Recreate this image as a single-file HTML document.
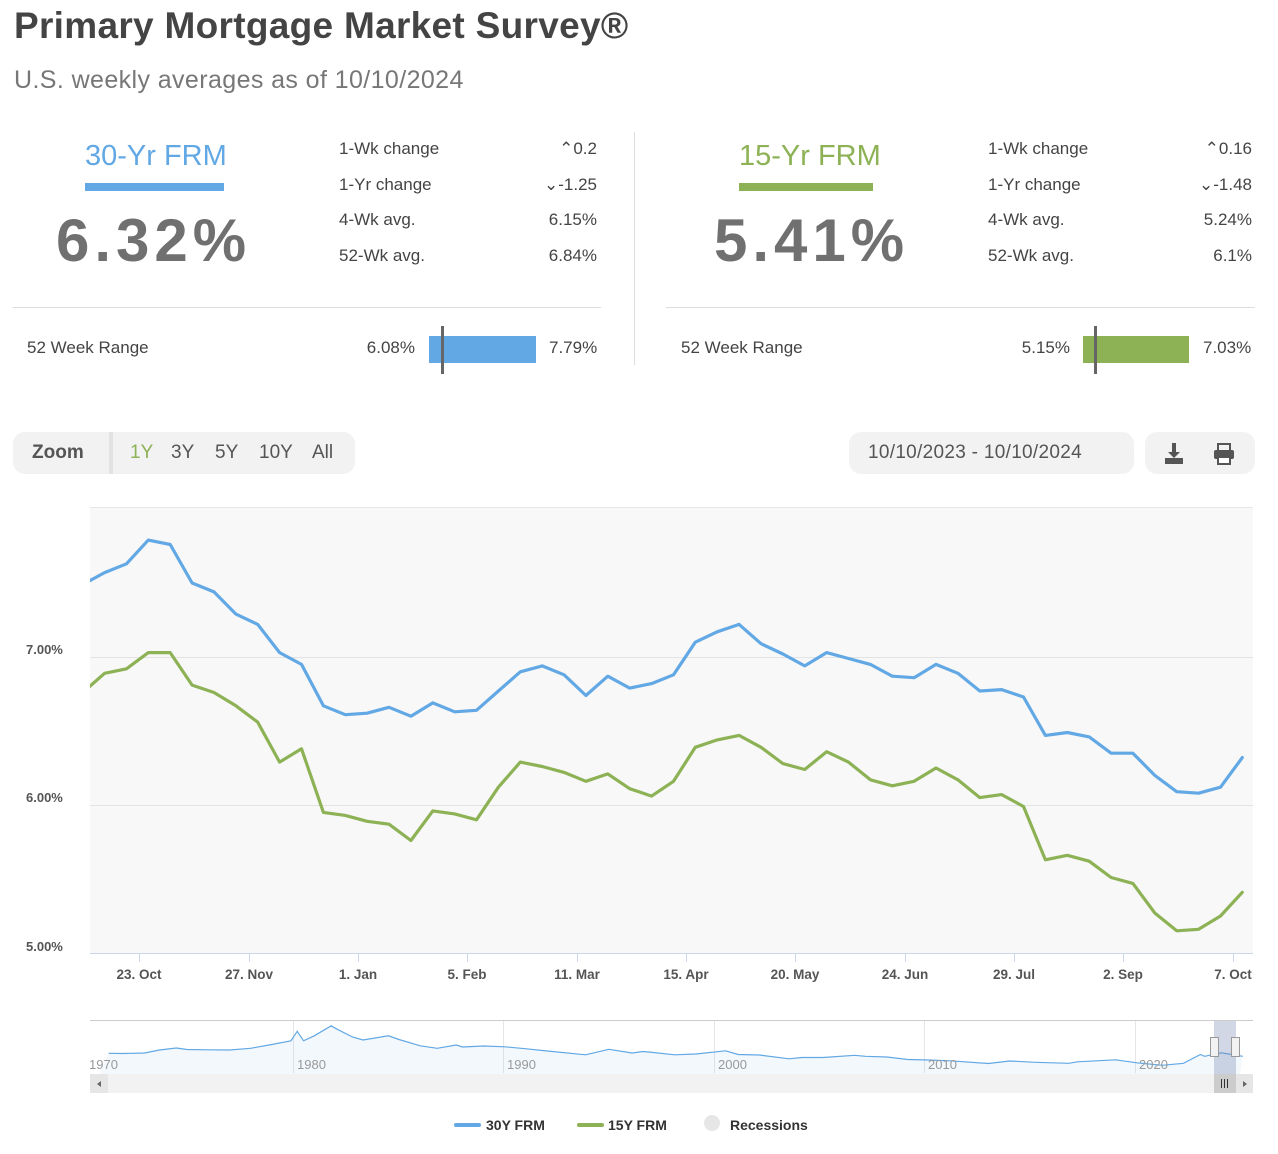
<!DOCTYPE html>
<html><head><meta charset="utf-8"><style>
*{margin:0;padding:0;box-sizing:border-box}
body{width:1278px;height:1154px;background:#fff;font-family:"Liberation Sans",sans-serif;color:#444;position:relative;overflow:hidden}
.a{position:absolute;white-space:nowrap}
.lbl{font-size:17px;color:#444}
.val{font-size:17px;color:#444;text-align:right}
</style></head><body>
<div class="a" style="left:14px;top:5px;font-size:37px;font-weight:bold;color:#444;letter-spacing:0.3px">Primary Mortgage Market Survey®</div>
<div class="a" style="left:14px;top:66px;font-size:25px;color:#777;letter-spacing:0.4px">U.S. weekly averages as of 10/10/2024</div>

<!-- left panel -->
<div class="a" style="left:85px;top:140px;width:139px;text-align:center;font-size:29px;color:#62a8e4">30-Yr FRM</div>
<div class="a" style="left:85px;top:183px;width:139px;height:8px;background:#62a8e4"></div>
<div class="a" style="left:56px;top:206px;font-size:60px;font-weight:bold;color:#707070;letter-spacing:5px">6.32%</div>
<div class="a lbl" style="left:339px;top:139px">1-Wk change</div><div class="a val" style="left:500px;width:97px;top:139px">⌃0.2</div>
<div class="a lbl" style="left:339px;top:175px">1-Yr change</div><div class="a val" style="left:500px;width:97px;top:175px">⌄-1.25</div>
<div class="a lbl" style="left:339px;top:210px">4-Wk avg.</div><div class="a val" style="left:500px;width:97px;top:210px">6.15%</div>
<div class="a lbl" style="left:339px;top:246px">52-Wk avg.</div><div class="a val" style="left:500px;width:97px;top:246px">6.84%</div>
<div class="a" style="left:13px;top:307px;width:588px;height:1px;background:#ddd"></div>
<div class="a lbl" style="left:27px;top:338px">52 Week Range</div>
<div class="a val" style="left:330px;width:85px;top:338px">6.08%</div>
<div class="a" style="left:429px;top:336px;width:107px;height:27px;background:#62a8e4"></div>
<div class="a" style="left:441px;top:326px;width:3px;height:48px;background:#666"></div>
<div class="a lbl" style="left:549px;top:338px">7.79%</div>
<div class="a" style="left:634px;top:132px;width:1px;height:233px;background:#ddd"></div>

<!-- right panel -->
<div class="a" style="left:739px;top:140px;width:134px;text-align:center;font-size:29px;color:#8db255">15-Yr FRM</div>
<div class="a" style="left:739px;top:183px;width:134px;height:8px;background:#8db255"></div>
<div class="a" style="left:714px;top:206px;font-size:60px;font-weight:bold;color:#707070;letter-spacing:5px">5.41%</div>
<div class="a lbl" style="left:988px;top:139px">1-Wk change</div><div class="a val" style="left:1150px;width:102px;top:139px">⌃0.16</div>
<div class="a lbl" style="left:988px;top:175px">1-Yr change</div><div class="a val" style="left:1150px;width:102px;top:175px">⌄-1.48</div>
<div class="a lbl" style="left:988px;top:210px">4-Wk avg.</div><div class="a val" style="left:1150px;width:102px;top:210px">5.24%</div>
<div class="a lbl" style="left:988px;top:246px">52-Wk avg.</div><div class="a val" style="left:1150px;width:102px;top:246px">6.1%</div>
<div class="a" style="left:666px;top:307px;width:589px;height:1px;background:#ddd"></div>
<div class="a lbl" style="left:681px;top:338px">52 Week Range</div>
<div class="a val" style="left:985px;width:85px;top:338px">5.15%</div>
<div class="a" style="left:1083px;top:336px;width:106px;height:27px;background:#8db255"></div>
<div class="a" style="left:1094px;top:326px;width:3px;height:48px;background:#666"></div>
<div class="a lbl" style="left:1203px;top:338px">7.03%</div>

<!-- zoom bar -->
<div class="a" style="left:13px;top:432px;width:342px;height:42px;background:#f2f2f2;border-radius:12px"></div>
<div class="a" style="left:109px;top:432px;width:4px;height:42px;background:#e2e2e2"></div>
<div class="a" style="left:32px;top:442px;font-size:19px;font-weight:bold;color:#555">Zoom</div>
<div class="a" style="left:130px;top:442px;font-size:19px;color:#8db255">1Y</div>
<div class="a" style="left:171px;top:442px;font-size:19px;color:#555">3Y</div>
<div class="a" style="left:215px;top:442px;font-size:19px;color:#555">5Y</div>
<div class="a" style="left:259px;top:442px;font-size:19px;color:#555">10Y</div>
<div class="a" style="left:312px;top:442px;font-size:19px;color:#555">All</div>
<div class="a" style="left:849px;top:432px;width:285px;height:42px;background:#f2f2f2;border-radius:12px"></div>
<div class="a" style="left:868px;top:442px;font-size:19px;color:#555;letter-spacing:0.3px">10/10/2023 - 10/10/2024</div>
<div class="a" style="left:1145px;top:432px;width:110px;height:42px;background:#f2f2f2;border-radius:12px"></div>
<svg class="a" style="left:1160px;top:440px" width="90" height="28">
<path d="M12 3h4v9h4l-6 6-6-6h4z" fill="#555"/><rect x="5" y="18" width="18" height="6" fill="#555"/>
<rect x="58" y="4" width="12" height="7" fill="none" stroke="#555" stroke-width="2"/><rect x="54" y="10" width="20" height="9" rx="2" fill="#555"/><rect x="58" y="17" width="12" height="7" fill="#fff" stroke="#555" stroke-width="2"/>
</svg>

<svg class="a" style="left:0;top:0" width="1278" height="1154" id="ch">
<rect x="90" y="507" width="1163" height="446" fill="#f8f8f8"/>
<line x1="90" y1="507.5" x2="1253" y2="507.5" stroke="#e6e6e6"/>
<line x1="90" y1="657.5" x2="1253" y2="657.5" stroke="#e3e3e3"/>
<line x1="90" y1="805.5" x2="1253" y2="805.5" stroke="#e3e3e3"/>
<line x1="90" y1="953.5" x2="1253" y2="953.5" stroke="#ccd6eb"/>
<g font-family="Liberation Sans,sans-serif" font-size="13" font-weight="bold" fill="#555">
<text x="26" y="654">7.00%</text><text x="26" y="802">6.00%</text><text x="26" y="951">5.00%</text>
</g>
<g id="ticks" font-family="Liberation Sans,sans-serif" font-size="13.5" font-weight="bold" fill="#555" text-anchor="middle"></g>
<clipPath id="cp"><rect x="90" y="500" width="1163" height="460"/></clipPath>
<g clip-path="url(#cp)" fill="none" stroke-width="3.2" stroke-linejoin="round" stroke-linecap="round">
<polyline id="l30" stroke="#62a8e4"/><polyline id="l15" stroke="#8db255"/>
</g>
<line x1="90" y1="1020.5" x2="1253" y2="1020.5" stroke="#ccc"/>
<g stroke="#e6e6e6"><line x1="293.5" y1="1021" x2="293.5" y2="1073"/><line x1="503.5" y1="1021" x2="503.5" y2="1073"/><line x1="714.5" y1="1021" x2="714.5" y2="1073"/><line x1="924.5" y1="1021" x2="924.5" y2="1073"/><line x1="1135.5" y1="1021" x2="1135.5" y2="1073"/></g>
<clipPath id="cp2"><rect x="90" y="1020" width="1163" height="54"/></clipPath>
<g clip-path="url(#cp2)"><path id="navA" fill="#62a8e4" fill-opacity="0.08"/><polyline id="navL" fill="none" stroke="#62a8e4" stroke-width="1.2"/></g>
<g font-family="Liberation Sans,sans-serif" font-size="13" fill="#999"><text x="89" y="1069">1970</text><text x="297" y="1069">1980</text><text x="507" y="1069">1990</text><text x="718" y="1069">2000</text><text x="928" y="1069">2010</text><text x="1139" y="1069">2020</text></g>
<rect x="1214" y="1021" width="22" height="53" fill="#667aaa" fill-opacity="0.3"/>
<rect x="90" y="1074" width="1163" height="19" fill="#f2f2f2"/>
<rect x="90" y="1074" width="18" height="19" fill="#e6e6e6"/><path d="M101 1081l-4 3 4 3z" fill="#666"/>
<rect x="1214" y="1074" width="22" height="19" fill="#ccc"/><g stroke="#333"><line x1="1221.5" y1="1079" x2="1221.5" y2="1088"/><line x1="1224.5" y1="1079" x2="1224.5" y2="1088"/><line x1="1227.5" y1="1079" x2="1227.5" y2="1088"/></g>
<rect x="1236" y="1074" width="17" height="19" fill="#e6e6e6"/><path d="M1243 1081l4 3-4 3z" fill="#666"/>
<rect x="1210.5" y="1037.5" width="8" height="19" fill="#f2f2f2" stroke="#999"/><rect x="1231.5" y="1037.5" width="8" height="19" fill="#f2f2f2" stroke="#999"/>
<line x1="456" y1="1125" x2="479" y2="1125" stroke="#62a8e4" stroke-width="4" stroke-linecap="round"/>
<line x1="579" y1="1125" x2="602" y2="1125" stroke="#8db255" stroke-width="4" stroke-linecap="round"/>
<circle cx="712" cy="1123" r="8" fill="#e6e6e6"/>
<g font-family="Liberation Sans,sans-serif" font-size="14" font-weight="bold" fill="#333"><text x="486" y="1130">30Y FRM</text><text x="608" y="1130">15Y FRM</text><text x="730" y="1130">Recessions</text></g>
</svg>
<script>
var a=[7.49,7.57,7.63,7.79,7.76,7.50,7.44,7.29,7.22,7.03,6.95,6.67,6.61,6.62,6.66,6.60,6.69,6.63,6.64,6.77,6.90,6.94,6.88,6.74,6.87,6.79,6.82,6.88,7.10,7.17,7.22,7.09,7.02,6.94,7.03,6.99,6.95,6.87,6.86,6.95,6.89,6.77,6.78,6.73,6.47,6.49,6.46,6.35,6.35,6.20,6.09,6.08,6.12,6.32];
var b=[6.76,6.89,6.92,7.03,7.03,6.81,6.76,6.67,6.56,6.29,6.38,5.95,5.93,5.89,5.87,5.76,5.96,5.94,5.90,6.12,6.29,6.26,6.22,6.16,6.21,6.11,6.06,6.16,6.39,6.44,6.47,6.39,6.28,6.24,6.36,6.29,6.17,6.13,6.16,6.25,6.17,6.05,6.07,5.99,5.63,5.66,5.62,5.51,5.47,5.27,5.15,5.16,5.25,5.41];
function pts(d){return d.map(function(v,i){return (82.7+i*21.88).toFixed(1)+","+(657-(v-7)*148).toFixed(1)}).join(" ")}
document.getElementById("l30").setAttribute("points",pts(a));
document.getElementById("l15").setAttribute("points",pts(b));
var t=["23. Oct","27. Nov","1. Jan","5. Feb","11. Mar","15. Apr","20. May","24. Jun","29. Jul","2. Sep","7. Oct"],tx=[139,249,358,467,577,686,795,905,1014,1123,1233],g=document.getElementById("ticks"),h="";
for(var i=0;i<t.length;i++){h+='<line x1="'+(tx[i]+.5)+'" y1="954" x2="'+(tx[i]+.5)+'" y2="962" stroke="#ccd6eb"/><text x="'+tx[i]+'" y="979">'+t[i]+'</text>'}
g.innerHTML=h;
var yr=[[1971.3,7.5],[1972,7.4],[1973,7.6],[1973.7,8.8],[1974.5,9.6],[1975,9],[1976,8.9],[1977,8.8],[1978,9.5],[1979,11],[1979.9,12.5],[1980.2,16.3],[1980.5,12.5],[1981,14.5],[1981.8,18.5],[1982,17.5],[1982.8,14],[1983.3,12.8],[1984.5,14.5],[1985,13],[1986,10.5],[1986.8,9.5],[1987.7,10.8],[1988,10],[1989,10.4],[1990,10.1],[1991,9.3],[1992,8.4],[1993.8,6.9],[1994.9,9.1],[1996,7.6],[1996.5,8.2],[1997,7.8],[1998,6.9],[1999,7.2],[2000.4,8.5],[2001,7],[2002,6.8],[2003.4,5.3],[2004,5.8],[2005,5.8],[2006.5,6.7],[2007,6.3],[2008,6],[2009,5],[2010,4.8],[2011,4.5],[2012.8,3.4],[2013.8,4.4],[2015,3.9],[2016.6,3.5],[2017,4.1],[2018.8,4.9],[2019.8,3.7],[2021,2.7],[2022,3.5],[2022.8,7],[2023,6.3],[2023.8,7.7],[2024.8,6.3]];
var p=yr.map(function(q){return (293+(q[0]-1980)*21.2).toFixed(1)+","+(1072-q[1]*2.5).toFixed(1)});
document.getElementById("navL").setAttribute("points",p.join(" "));
document.getElementById("navA").setAttribute("d","M"+p.join(" L")+" L1240,1074 L100,1074Z");
</script>
</body></html>
